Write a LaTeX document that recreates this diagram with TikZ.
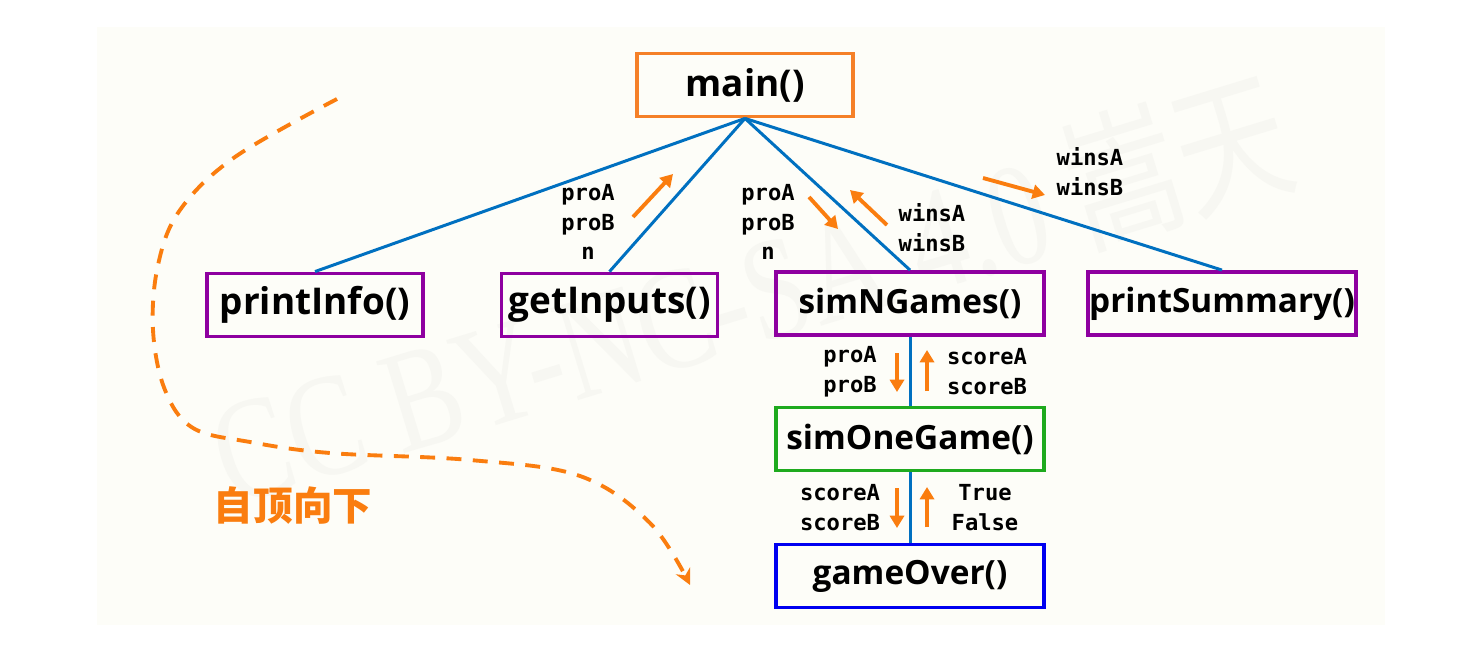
\documentclass[tikz,border=0pt]{standalone}
\usepackage{fontspec}
\setmainfont{Open Sans}
\newfontfamily\codefont{DejaVu Sans Mono}
\newfontfamily\cjkfont{Noto Sans CJK SC}
\newfontfamily\markfont{Liberation Serif}
\usetikzlibrary{arrows.meta,positioning}

\definecolor{bgcream}{RGB}{253,253,248}
\definecolor{markcol}{RGB}{247,247,242}
\definecolor{treeblue}{RGB}{0,112,192}
\definecolor{flowor}{RGB}{250,125,15}
\definecolor{boxor}{RGB}{245,128,40}
\definecolor{boxpurple}{RGB}{142,0,160}
\definecolor{boxgreen}{RGB}{30,170,30}
\definecolor{boxblue}{RGB}{0,0,240}

\begin{document}
\begin{tikzpicture}[
x=0.02cm, y=-0.02cm,
func/.style={
draw,
line width=2.2pt,
inner sep=0pt,
minimum width=4.32cm,
minimum height=1.26cm,
font=\fontsize{21}{23}\selectfont\bfseries
},
wide/.style={func, minimum width=5.36cm, font=\fontsize{19}{21}\selectfont\bfseries},
vars/.style={
align=center,
inner sep=0pt,
font=\codefont\fontsize{12.6}{17}\selectfont\bfseries
},
link/.style={treeblue, line width=1.7pt},
pass/.style={flowor, line width=2.2pt, -{Triangle[length=7pt,width=8pt]}}
]

\useasboundingbox (0,0) rectangle (1457,669);
\fill[bgcream] (97,27) rectangle (1385,625);

% watermark
\node[markcol, rotate=17, yscale=1.3, font=\markfont\fontsize{64}{64}\selectfont] (mark) at (750,290)
{CC BY-NC-SA 4.0 {\cjkfont 嵩天}};

% functions
\node[func, boxor] (main) at (745,85) {\color{black}main()};

\node[func, boxpurple] (printinfo) at (315,305) {\color{black}printInfo()};
\node[func, boxpurple] (getinputs) at (609.5,305) {\color{black}getInputs()};
\node[wide, boxpurple] (simngames) at (910,303.5) {\color{black}simNGames()};
\node[wide, boxpurple] (printsummary) at (1222,303.5) {\color{black}printSummary()};

\node[wide, boxgreen] (simonegame) at (910,439) {\color{black}simOneGame()};
\node[wide, boxblue] (gameover) at (910,576) {\color{black}gameOver()};

% tree lines
\draw[link] (main.south) -- (printinfo.north);
\draw[link] (main.south) -- (getinputs.north);
\draw[link] (main.south) -- (simngames.north);
\draw[link] (main.south) -- (printsummary.north);
\draw[link] (simngames.south) -- (simonegame.north);
\draw[link] (simonegame.south) -- (gameover.north);

% passed values
\node[vars] (giin) at (588,222) {proA\\proB\\n};
\node[vars] (snin) at (768,222) {proA\\proB\\n};
\node[vars] (snout) at (932,227.5) {winsA\\winsB};
\node[vars] (psin) at (1090,172) {winsA\\winsB};
\node[vars] (soin) at (850,371.5) {proA\\proB};
\node[vars] (soout) at (987,371.5) {scoreA\\scoreB};
\node[vars] (goin) at (840,508) {scoreA\\scoreB};
\node[vars] (goout) at (985,508) {True\\False};

\coordinate (a1) at (633,217); \coordinate (b1) at (673,174);
\coordinate (a2) at (809,197); \coordinate (b2) at (838,229);
\coordinate (a3) at (887,225); \coordinate (b3) at (850,190);
\coordinate (a4) at (983,178); \coordinate (b4) at (1045,195);
\coordinate (a5) at (897,353); \coordinate (b5) at (897,392);
\coordinate (a6) at (927,391); \coordinate (b6) at (927,350);
\coordinate (a7) at (897,488); \coordinate (b7) at (897,528);
\coordinate (a8) at (927,527); \coordinate (b8) at (927,487);

\draw[pass] (a1) -- (b1);
\draw[pass] (a2) -- (b2);
\draw[pass] (a3) -- (b3);
\draw[pass] (a4) -- (b4);
\draw[pass] (a5) -- (b5);
\draw[pass] (a6) -- (b6);
\draw[pass] (a7) -- (b7);
\draw[pass] (a8) -- (b8);

% top-down hint
\draw[flowor, line width=2.2pt, dash pattern=on 8.5pt off 6.5pt,
-{Stealth[length=9pt,width=9pt]}]
plot[smooth, tension=0.6] coordinates {(337,99) (235,157) (180,210) (158,265)
(153,330) (165,390) (193,428) (250,442) (330,453) (470,460) (580,476)
(650,523) (690,585)};

\node[flowor, font=\cjkfont\fontsize{22.5}{24}\selectfont\bfseries] (topdown) at (293,506) {自顶向下};

\end{tikzpicture}
\end{document}
